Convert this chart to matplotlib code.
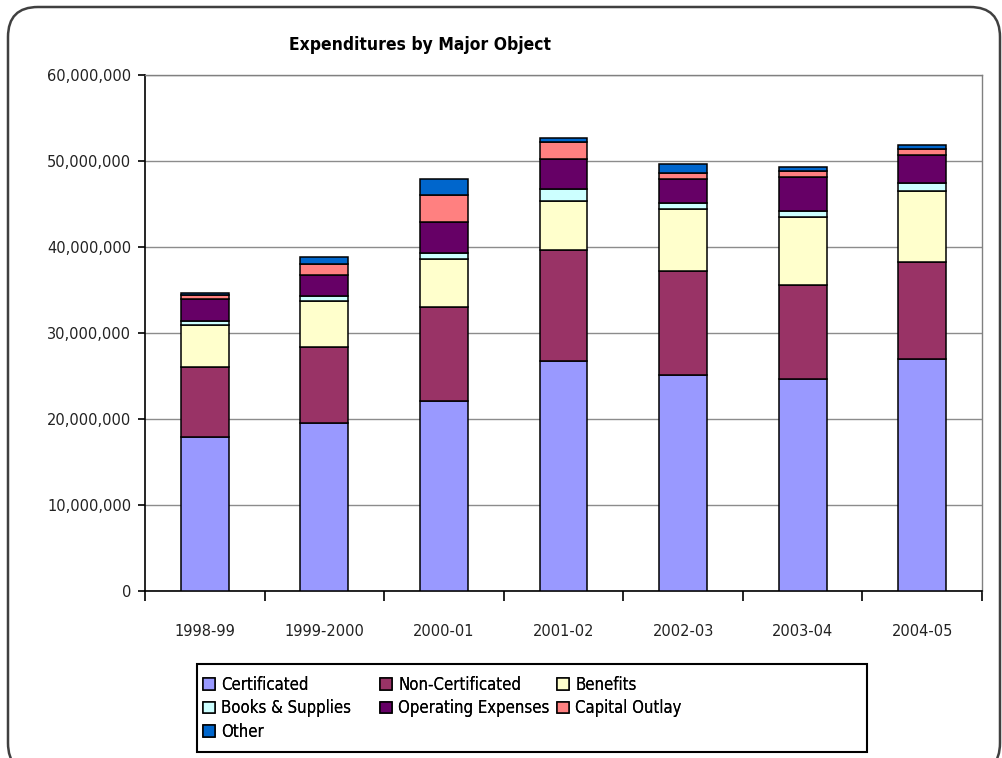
import numpy as np
from matplotlib import pyplot as plt
from matplotlib import font_manager as fm
from matplotlib.patches import FancyBboxPatch, Rectangle, Patch
from matplotlib.ticker import FuncFormatter

# values in millions of dollars
years = ["1998-99", "1999-2000", "2000-01", "2001-02", "2002-03", "2003-04", "2004-05"]
certificated = [17.9, 19.5, 22.1, 26.8, 25.15, 24.7, 27.0]
non_certificated = [8.15, 8.9, 10.95, 12.8, 12.1, 10.9, 11.2]
benefits = [4.9, 5.35, 5.6, 5.8, 7.2, 7.9, 8.35]
books_supplies = [0.42, 0.6, 0.7, 1.4, 0.65, 0.7, 0.9]
operating = [2.6, 2.4, 3.5, 3.45, 2.85, 3.9, 3.2]
capital = [0.42, 1.3, 3.25, 1.95, 0.7, 0.75, 0.7]
other = [0.3, 0.75, 1.8, 0.45, 0.95, 0.45, 0.5]

series = [
    ("Certificated", certificated, "#9999FF"),
    ("Non-Certificated", non_certificated, "#993366"),
    ("Benefits", benefits, "#FFFFCC"),
    ("Books & Supplies", books_supplies, "#CCFFFF"),
    ("Operating Expenses", operating, "#660066"),
    ("Capital Outlay", capital, "#FF8080"),
    ("Other", other, "#0066CC"),
]

# pick a narrow face if there is one (Excel used Arial Narrow)
installed = fm.fontManager.ttflist
if any(f.name == "Liberation Sans Narrow" for f in installed):
    narrow = {"family": ["Liberation Sans Narrow", "DejaVu Sans"], "stretch": "normal"}
    leg_size, title_size = 14, 14
elif any(f.name == "DejaVu Sans" and f.stretch == "condensed" for f in installed):
    narrow = {"family": ["DejaVu Sans"], "stretch": "condensed"}
    leg_size, title_size = 12, 12.5
else:
    narrow = {"family": ["Liberation Sans", "DejaVu Sans"], "stretch": "normal"}
    leg_size, title_size = 12, 12.5

plt.rcParams['font.family'] = ["DejaVu Sans"]

fig = plt.figure(figsize=(10.03, 7.58), dpi=100)
ax = fig.add_axes([145/1003, 1-591/758, 837/1003, 516/758])

x = np.arange(len(years))
bottom = np.zeros(len(years))
handles = {}
for name, vals, col in series:
    v = np.array(vals) * 1e6
    ax.bar(x, v, 0.4, bottom=bottom, color=col, edgecolor="black", linewidth=1.1, zorder=3)
    bottom += v
    handles[name] = Patch(facecolor=col, edgecolor="black", linewidth=1.1)

ax.set_xlim(-0.5, len(years)-0.5)
ax.set_ylim(0, 60e6)
ax.set_yticks(np.arange(0, 60e6+1, 10e6))
ax.yaxis.set_major_formatter(FuncFormatter(lambda v, p: f"{v:,.0f}"))
ax.yaxis.grid(True, color="#8c8c8c", linewidth=1, zorder=0)

ax.set_xticks(np.arange(-0.5, len(years)), labels=[])
ax.set_xticks(x, labels=years, minor=True)
ax.tick_params(axis="x", which="major", length=7, width=1.2, direction="out")
ax.tick_params(axis="x", which="minor", length=0, pad=24, labelsize=10.5, labelcolor="#222222")
ax.tick_params(axis="y", length=5, width=1.2, pad=5, labelsize=10.5, labelcolor="#222222")

for s in ["left", "bottom"]:
    ax.spines[s].set_linewidth(1.2)
for s in ["top", "right"]:
    ax.spines[s].set_color("#808080")
    ax.spines[s].set_linewidth(1)

fig.text(420/1003, 1-45/758, "Expenditures by Major Object", ha="center", va="center",
         fontsize=title_size, fontweight="bold", family=narrow["family"],
         fontstretch=narrow["stretch"])

# legend: three fixed-width columns inside one box
cols = [["Certificated", "Books & Supplies", "Other"],
        ["Non-Certificated", "Operating Expenses"],
        ["Benefits", "Capital Outlay"]]
for i, names in enumerate(cols):
    leg = fig.legend([handles[n] for n in names], names, loc="upper left",
                     bbox_to_anchor=((203 + 177*i)/1003, 1-676/758), frameon=False,
                     prop={"family": narrow["family"], "stretch": narrow["stretch"], "size": leg_size},
                     handlelength=0.7, handleheight=0.7,
                     handletextpad=0.4, labelspacing=0.32, borderpad=0, borderaxespad=0)
    fig.add_artist(leg)

fig.add_artist(Rectangle((197/1003, 1-752/758), 670/1003, 88/758, transform=fig.transFigure,
                         facecolor="none", edgecolor="black", linewidth=1.5))

# rounded chart frame
fig.add_artist(FancyBboxPatch((0.08, -0.15), 9.92, 7.66, boxstyle="round,pad=0,rounding_size=0.3",
                              transform=fig.dpi_scale_trans, facecolor="none",
                              edgecolor="#404040", linewidth=1.8))

fig.savefig("out.png", dpi=100)
